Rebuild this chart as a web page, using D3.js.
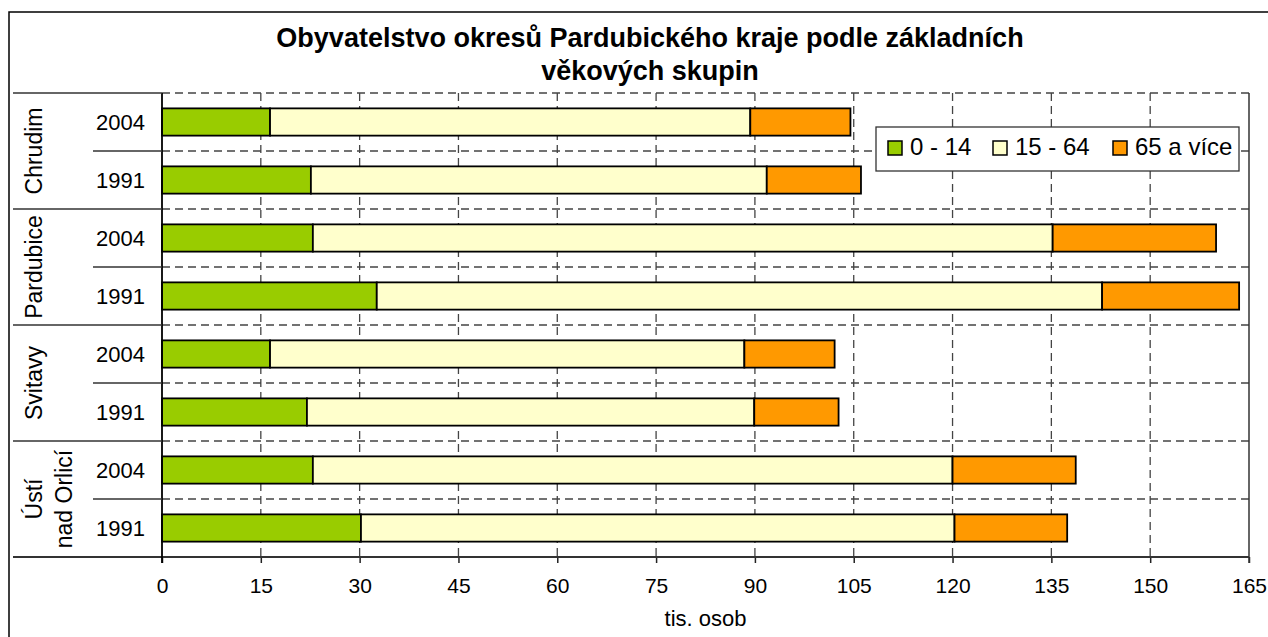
<!DOCTYPE html>
<html>
<head>
<meta charset="utf-8">
<script src="https://cdn.jsdelivr.net/npm/d3@7"></script>
<style>
  body { margin: 0; background: #fff; }
  svg { display: block; font-family: "Liberation Sans", Arial, sans-serif; }
</style>
</head>
<body>
<div id="chart"></div>
<script>
const districts = ['Chrudim', 'Pardubice', 'Svitavy', 'Ústí nad Orlicí'];
const districtLines = [['Chrudim'], ['Pardubice'], ['Svitavy'], ['Ústí', 'nad Orlicí']];
const years = ['2004', '1991'];
const ageGroups = ['0 - 14', '15 - 64', '65 a více'];
// rows: Chrudim 2004, Chrudim 1991, Pardubice 2004, ... (thousands of people)
const age0to14 = [16.4, 22.6, 22.9, 32.6, 16.4, 22.0, 22.9, 30.2];
const age15to64 = [72.9, 69.2, 112.3, 110.1, 72.0, 67.9, 97.1, 90.1];
const age65plus = [15.2, 14.3, 24.8, 20.8, 13.7, 12.8, 18.7, 17.1];
const xTicks = [0, 15, 30, 45, 60, 75, 90, 105, 120, 135, 150, 165];
const colors = ['#99cc00', '#ffffcc', '#ff9900'];

const W = 1268, H = 637;
const plot = { left: 162, top: 93, right: 1249, bottom: 557 };

const rows = [];
districts.forEach((d, i) => {
    years.forEach((y, j) => {
        const k = i * years.length + j;
        rows.push({ key: d + '|' + y, district: d, year: y,
            '0 - 14': age0to14[k], '15 - 64': age15to64[k], '65 a více': age65plus[k] });
    });
});

const svg = d3.select('#chart').append('svg')
    .attr('width', W)
    .attr('height', H);

// outer chart border
svg.append('rect')
    .attr('x', 9).attr('y', 12)
    .attr('width', W + 20).attr('height', H + 20)
    .attr('fill', '#fff')
    .attr('stroke', '#000')
    .attr('stroke-width', 1.5);

// title
const title = svg.append('text')
    .attr('text-anchor', 'middle')
    .style('font-size', '27px')
    .style('font-weight', 'bold');
title.append('tspan').attr('x', 650).attr('y', 47)
    .text('Obyvatelstvo okresů Pardubického kraje podle základních');
title.append('tspan').attr('x', 650).attr('y', 80)
    .text('věkových skupin');

const x = d3.scaleLinear()
    .domain([0, 165])
    .range([plot.left, plot.right]);

const y = d3.scaleBand()
    .domain(rows.map(r => r.key))
    .range([plot.top, plot.bottom]);

const barH = y.bandwidth() * 0.47;

// vertical grid
svg.append('g')
    .selectAll('line')
    .data(xTicks.filter(t => t > 0 && t < 165))
    .enter()
    .append('line')
    .attr('x1', d => x(d)).attr('x2', d => x(d))
    .attr('y1', plot.top).attr('y2', plot.bottom)
    .attr('stroke', '#444')
    .attr('stroke-width', 1.3)
    .attr('stroke-dasharray', '8,5');

// horizontal grid at row boundaries (incl. top of plot)
const boundaries = rows.map(r => y(r.key));
svg.append('g')
    .selectAll('line')
    .data(boundaries)
    .enter()
    .append('line')
    .attr('x1', plot.left).attr('x2', plot.right)
    .attr('y1', d => d).attr('y2', d => d)
    .attr('stroke', '#444')
    .attr('stroke-width', 1.3)
    .attr('stroke-dasharray', '8,5');

// stacked bars
const stack = d3.stack().keys(ageGroups);
const series = stack(rows);

svg.append('g')
    .selectAll('g')
    .data(series)
    .enter()
    .append('g')
    .attr('fill', (d, i) => colors[i])
    .selectAll('rect')
    .data(d => d)
    .enter()
    .append('rect')
    .attr('x', d => x(d[0]))
    .attr('y', d => y(d.data.key) + (y.bandwidth() - barH) / 2)
    .attr('width', d => x(d[1]) - x(d[0]))
    .attr('height', barH)
    .attr('stroke', '#000')
    .attr('stroke-width', 1.8);

// x axis
const xAxis = svg.append('g')
    .attr('transform', `translate(0, ${plot.bottom})`)
    .call(d3.axisBottom(x)
        .tickValues(xTicks)
        .tickSize(6)
        .tickSizeOuter(0)
        .tickPadding(15));
xAxis.select('.domain').remove();
xAxis.selectAll('.tick line').attr('stroke', '#222').attr('stroke-width', 1.5);
xAxis.selectAll('text')
    .style('font-size', '21px')
    .style('font-family', '"Liberation Sans", Arial, sans-serif')
    .attr('fill', '#000');

// bottom axis line, extends under category labels
svg.append('line')
    .attr('x1', 13).attr('x2', plot.right)
    .attr('y1', plot.bottom).attr('y2', plot.bottom)
    .attr('stroke', '#333').attr('stroke-width', 1.8);

// right border of plot
svg.append('line')
    .attr('x1', plot.right).attr('x2', plot.right)
    .attr('y1', plot.top).attr('y2', plot.bottom + 6)
    .attr('stroke', '#333').attr('stroke-width', 1.5);

// left axis line
svg.append('line')
    .attr('x1', plot.left).attr('x2', plot.left)
    .attr('y1', plot.top).attr('y2', plot.bottom + 6)
    .attr('stroke', '#000').attr('stroke-width', 1.8);

svg.append('text')
    .attr('x', x(82.5))
    .attr('y', 626)
    .attr('text-anchor', 'middle')
    .style('font-size', '22px')
    .text('tis. osob');

// category axis: year labels
svg.append('g')
    .selectAll('text')
    .data(rows)
    .enter()
    .append('text')
    .attr('x', 145)
    .attr('y', d => y(d.key) + y.bandwidth() / 2)
    .attr('dy', '0.35em')
    .attr('text-anchor', 'end')
    .style('font-size', '22px')
    .text(d => d.year);

// separators: full width at district boundaries, short between years
svg.append('g')
    .selectAll('line')
    .data(rows)
    .enter()
    .append('line')
    .attr('x1', d => d.year === years[0] ? 13 : 93)
    .attr('x2', plot.left)
    .attr('y1', d => y(d.key))
    .attr('y2', d => y(d.key))
    .attr('stroke', '#333')
    .attr('stroke-width', 1.5);

// district labels (rotated)
districts.forEach((d, i) => {
    const yc = (y(d + '|' + years[0]) + y(d + '|' + years[1]) + y.bandwidth()) / 2;
    const lines = districtLines[i];
    lines.forEach((ln, j) => {
        const bx = 42 + j * 30;
        svg.append('text')
            .attr('transform', `translate(${bx}, ${yc}) rotate(-90)`)
            .attr('text-anchor', 'middle')
            .style('font-size', '23px')
            .text(ln);
    });
});

// legend
const legend = svg.append('g')
    .attr('transform', 'translate(876, 127)');
legend.append('rect')
    .attr('width', 363)
    .attr('height', 44)
    .attr('fill', '#fff')
    .attr('stroke', '#333')
    .attr('stroke-width', 1.3);
const legendX = [12, 117, 237];
ageGroups.forEach((g, i) => {
    const item = legend.append('g').attr('transform', `translate(${legendX[i]}, 0)`);
    item.append('rect')
        .attr('x', 0).attr('y', 14)
        .attr('width', 14).attr('height', 14)
        .attr('fill', colors[i])
        .attr('stroke', '#000')
        .attr('stroke-width', 1.5);
    item.append('text')
        .attr('x', 22)
        .attr('y', 28)
        .style('font-size', '24px')
        .text(g);
});
</script>
</body>
</html>
